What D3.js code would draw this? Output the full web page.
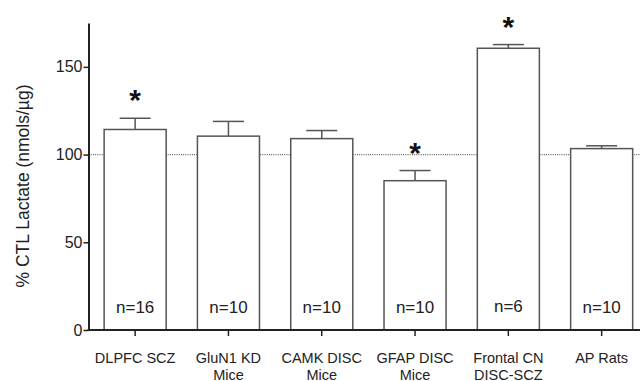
<!DOCTYPE html>
<html>
<head>
<meta charset="utf-8">
<script src="https://cdn.jsdelivr.net/npm/d3@7"></script>
<style>
  body { margin: 0; background: #fff; }
  svg { display: block; font-family: Arial, "Liberation Sans", sans-serif; }
</style>
</head>
<body>
<svg id="chart" width="640" height="381"></svg>
<script>
// chart values
const groups = [
  ['DLPFC SCZ'],
  ['GluN1 KD', 'Mice'],
  ['CAMK DISC', 'Mice'],
  ['GFAP DISC', 'Mice'],
  ['Frontal CN', 'DISC-SCZ'],
  ['AP Rats']
];
const means = [114.3, 110.5, 109.1, 85.1, 160.6, 103.4];
const errors = [6.4, 8.4, 4.6, 5.8, 2.1, 1.6];
const nLabels = ['n=16', 'n=10', 'n=10', 'n=10', 'n=6', 'n=10'];
const significant = [true, false, false, true, true, false];
const yTicks = [0, 50, 100, 150];

const svg = d3.select('#chart');
const margin = { top: 23, left: 88.5, bottom: 330 };
const width = 640;

const keys = groups.map((d, i) => i);
const x = d3.scaleBand()
  .domain(keys)
  .range([margin.left, margin.left + 6 * 93.3])
  .paddingInner(0.335)
  .paddingOuter(0.1675);

const y = d3.scaleLinear()
  .domain([0, 175])
  .range([margin.bottom, margin.top]);

// reference line at 100%
svg.append('line')
  .attr('x1', margin.left).attr('x2', width)
  .attr('y1', y(100)).attr('y2', y(100))
  .attr('stroke', '#666')
  .attr('stroke-width', 1.2)
  .attr('stroke-dasharray', '1,1.2');

// error bars (drawn before bars so stems start at bar top)
const eb = svg.append('g').attr('stroke', '#555').attr('stroke-width', 1.5);
keys.forEach(i => {
  const cx = x(i) + x.bandwidth() / 2;
  eb.append('line')
    .attr('x1', cx).attr('x2', cx)
    .attr('y1', y(means[i])).attr('y2', y(means[i] + errors[i]));
  eb.append('line')
    .attr('x1', cx - x.bandwidth() / 4).attr('x2', cx + x.bandwidth() / 4)
    .attr('y1', y(means[i] + errors[i])).attr('y2', y(means[i] + errors[i]));
});

// bars
svg.append('g')
  .selectAll('rect')
  .data(keys)
  .join('rect')
  .attr('x', i => x(i))
  .attr('y', i => y(means[i]))
  .attr('width', x.bandwidth())
  .attr('height', i => y(0) - y(means[i]))
  .attr('fill', '#fff')
  .attr('stroke', '#555')
  .attr('stroke-width', 1.5);

// n labels
svg.append('g')
  .selectAll('text')
  .data(keys)
  .join('text')
  .attr('x', i => x(i) + x.bandwidth() / 2)
  .attr('y', i => nLabels[i] === 'n=6' ? 312 : 313)
  .attr('text-anchor', 'middle')
  .attr('font-size', 17)
  .attr('fill', '#222')
  .text(i => nLabels[i]);

// significance stars
svg.append('g')
  .selectAll('text')
  .data(keys.filter(i => significant[i]))
  .join('text')
  .attr('x', i => x(i) + x.bandwidth() / 2)
  .attr('y', i => y(means[i] + errors[i]) - 8)
  .attr('text-anchor', 'middle')
  .attr('font-size', 30)
  .attr('font-weight', 'bold')
  .attr('fill', '#111')
  .text('*');

// y axis
const yAxis = svg.append('g')
  .attr('transform', `translate(${margin.left},0)`)
  .call(d3.axisLeft(y).tickValues(yTicks).tickSize(5).tickSizeOuter(0));
yAxis.select('.domain').attr('stroke', '#222').attr('stroke-width', 2);
yAxis.selectAll('.tick line').attr('stroke', '#222').attr('stroke-width', 1.5);
yAxis.selectAll('.tick text')
  .attr('font-size', 16).attr('fill', '#222')
  .attr('font-family', 'Arial, "Liberation Sans", sans-serif')
  .attr('x', -6);

// x axis
const xAxis = svg.append('g')
  .attr('transform', `translate(0,${y(0)})`)
  .call(d3.axisBottom(x).tickSize(6).tickSizeOuter(0).tickFormat(''));
xAxis.select('.domain').remove();
xAxis.selectAll('.tick line').attr('stroke', '#222').attr('stroke-width', 1.5);
svg.append('line')
  .attr('x1', margin.left - 1).attr('x2', width)
  .attr('y1', y(0)).attr('y2', y(0))
  .attr('stroke', '#222').attr('stroke-width', 2);

// category labels
const cat = svg.append('g')
  .selectAll('text')
  .data(keys)
  .join('text')
  .attr('x', i => x(i) + x.bandwidth() / 2)
  .attr('y', 363)
  .attr('text-anchor', 'middle')
  .attr('font-size', 14.5)
  .attr('fill', '#222');
cat.each(function(i) {
  groups[i].forEach((line, j) => {
    d3.select(this).append('tspan')
      .attr('x', x(i) + x.bandwidth() / 2)
      .attr('dy', j === 0 ? 0 : 17)
      .text(line);
  });
});

// y axis title
svg.append('text')
  .attr('transform', `translate(29,${186}) rotate(-90)`)
  .attr('text-anchor', 'middle')
  .attr('font-size', 17.5)
  .attr('fill', '#222')
  .text('% CTL Lactate (nmols/µg)');
</script>
</body>
</html>
